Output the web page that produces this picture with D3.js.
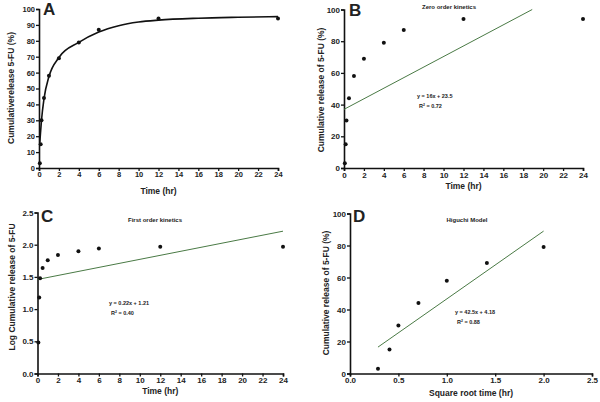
<!DOCTYPE html>
<html><head><meta charset="utf-8">
<script src="https://cdn.jsdelivr.net/npm/d3@7"></script>
<style>
body{margin:0;background:#fff;}
svg text{font-family:"Liberation Sans",Arial,sans-serif;font-weight:bold;fill:#222;}
</style></head>
<body><svg id="c" width="600" height="402"></svg>
<script>
// Data
const times = [0.083, 0.167, 0.25, 0.5, 1, 2, 4, 6, 12, 24];
const release = [3, 15, 30, 44, 58, 69, 79, 87, 94, 94];
const logRelease = [0.48, 1.18, 1.48, 1.64, 1.76, 1.84, 1.90, 1.94, 1.97, 1.97];
const sqrtTimes = [0.289, 0.408, 0.5, 0.707, 1.0, 1.414, 2.0];
const higuchiRelease = [3, 15, 30, 44, 58, 69, 79];
// fitted curve in panel A
const fitA_x = [0.08, 0.15, 0.25, 0.5, 1, 2, 4, 6, 8, 10, 12, 16, 20, 24];
const fitA_y = [16, 22, 30, 43.5, 57.5, 69.5, 79, 85.5, 89.5, 91.8, 93, 94.2, 94.8, 95.2];
// linear fits (endpoints)
const fitB = [[0, 37], [18.9, 100]];
const fitC = [[0, 1.46], [24, 2.21]];
const fitD = [[0.289, 16.5], [2.0, 89]];
const xTicksTime = [0,2,4,6,8,10,12,14,16,18,20,22,24];
const yTicksA = [0,10,20,30,40,50,60,70,80,90,100];
const yTicksB = [0,20,40,60,80,100];
const yTicksC = [0,0.5,1.0,1.5,2.0,2.5];
const xTicksD = [0,0.5,1.0,1.5,2.0,2.5];

const svg = d3.select("#c");

function panel(o){
  const g = svg.append("g");
  const x = d3.scaleLinear().domain(o.xd).range([o.x0, o.x1]);
  const y = d3.scaleLinear().domain(o.yd).range([o.y0, o.y1]);
  const xa = g.append("g").attr("transform",`translate(0,${o.y0})`)
    .call(d3.axisBottom(x).tickValues(o.xt).tickSize(3).tickPadding(1).tickFormat(o.xf||d3.format("d")));
  const ya = g.append("g").attr("transform",`translate(${o.x0},0)`)
    .call(d3.axisLeft(y).tickValues(o.yt).tickSize(3).tickPadding(1).tickFormat(o.yf||d3.format("d")));
  [xa,ya].forEach(a=>{
    a.select(".domain").attr("stroke","#111").attr("stroke-width",1.6);
    a.selectAll(".tick line").attr("stroke","#111").attr("stroke-width",1.3);
    a.selectAll(".tick text").attr("font-size",o.tfs||8).attr("font-family","Liberation Sans, Arial").attr("font-weight","bold").attr("fill","#222");
  });
  g.append("text").attr("x",(o.x0+o.x1)/2).attr("y",o.xty).attr("text-anchor","middle").attr("font-size",8.5).text(o.xtitle);
  g.append("text").attr("transform",`translate(${o.ytx},${o.yty}) rotate(-90)`).attr("text-anchor","middle").attr("font-size",8.5).text(o.ytitle);
  g.append("text").attr("x",o.lx).attr("y",o.ly).attr("font-size",17).attr("fill","#111").text(o.letter);
  if(o.title) g.append("text").attr("x",o.tx).attr("y",o.ty).attr("text-anchor","middle").attr("font-size",6).text(o.title);
  return {g,x,y};
}

function dots(p, xs, ys){
  p.g.selectAll(null).data(xs).enter().append("circle")
    .attr("cx",(d)=>p.x(d)).attr("cy",(d,i)=>p.y(ys[i])).attr("r",2).attr("fill","#111");
}
function fitLine(p, pts){
  p.g.append("path").datum(pts).attr("fill","none").attr("stroke","#4a7a45").attr("stroke-width",1)
    .attr("d", d3.line().x(d=>p.x(d[0])).y(d=>p.y(d[1])));
}
function eq(p, x, y, t1, r2){
  p.g.append("text").attr("x",x).attr("y",y).attr("font-size",5.5).text(t1);
  const r = p.g.append("text").attr("x",x+2).attr("y",y+10).attr("font-size",5.5);
  r.append("tspan").text("R");
  r.append("tspan").attr("font-size",3.5).attr("dy",-2).text("2");
  r.append("tspan").attr("dy",2).text(" = "+r2);
}

// Panel A
const A = panel({xd:[0,24], yd:[0,100], x0:39, x1:278, y0:168, y1:9, xt:xTicksTime, yt:yTicksA,
  xtitle:"Time (hr)", xty:194, ytitle:"Cumulativerelease 5-FU (%)", ytx:14, yty:88,
  letter:"A", lx:43, ly:15, tfs:7.5});
A.g.append("path").datum(fitA_x.map((d,i)=>[d,fitA_y[i]])).attr("fill","none").attr("stroke","#111").attr("stroke-width",1.6)
  .attr("d", d3.line().x(d=>A.x(d[0])).y(d=>A.y(d[1])).curve(d3.curveMonotoneX));
dots(A, times, release);

// Panel B
const B = panel({xd:[0,24], yd:[0,100], x0:344, x1:583, y0:168, y1:9.5, xt:xTicksTime, yt:yTicksB,
  xtitle:"Time (hr)", xty:189, ytitle:"Cumulative release of 5-FU (%)", ytx:324, yty:90,
  letter:"B", lx:349, ly:16, title:"Zero order kinetics", tx:449, ty:9});
fitLine(B, fitB);
dots(B, times, release);
eq(B, 417, 98, "y = 16x + 23.5", "0.72");

// Panel C
const C = panel({xd:[0,24], yd:[0,2.5], x0:37.5, x1:283, y0:373.5, y1:212.5, xt:xTicksTime, yt:yTicksC,
  yf:d3.format(".1f"),
  xtitle:"Time (hr)", xty:394, ytitle:"Log Cumulative release of 5-FU", ytx:15, yty:287,
  letter:"C", lx:41, ly:222, title:"First order kinetics", tx:155, ty:222});
fitLine(C, fitC);
dots(C, times, logRelease);
eq(C, 109, 305, "y = 0.22x + 1.21", "0.40");

// Panel D
const D = panel({xd:[0,2.5], yd:[0,100], x0:350, x1:592, y0:373.5, y1:213.5, xt:xTicksD, yt:yTicksB,
  xf:d3.format(".1f"),
  xtitle:"Square root time (hr)", xty:396, ytitle:"Cumulative release of 5-FU (%)", ytx:329, yty:293,
  letter:"D", lx:353, ly:222, title:"Higuchi Model", tx:467, ty:222});
fitLine(D, fitD);
dots(D, sqrtTimes, higuchiRelease);
eq(D, 455, 314, "y = 42.5x + 4.18", "0.88");
</script></body></html>
